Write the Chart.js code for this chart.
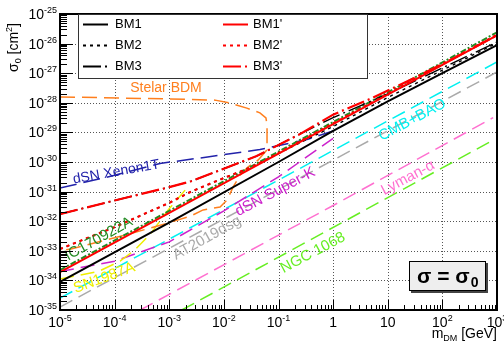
<!DOCTYPE html>
<html>
<head>
<meta charset="utf-8">
<script src="https://cdn.jsdelivr.net/npm/chart.js@4.4.0/dist/chart.umd.min.js"></script>
<style>
  html, body { margin: 0; padding: 0; background: #fff; }
  #wrap { width: 504px; height: 343px; }
</style>
</head>
<body>
<div id="wrap"><canvas id="chart" width="504" height="343"></canvas></div>
<script>
// decades on each axis (log10 values)
const xDecades = [-5, -4, -3, -2, -1, 0, 1, 2, 3];
const yDecades = [-35, -34, -33, -32, -31, -30, -29, -28, -27, -26, -25];
const xTickBase = ['10', '10', '10', '10', '10', '1', '10', '10', '10'];
const xTickExp = ['-5', '-4', '-3', '-2', '-1', '', '', '2', '3'];

// curves as [log10(m_DM / GeV), log10(sigma_0 / cm^2)]
const bm1 = [[-5, -34.05], [-3, -32.05], [-1, -30.0], [0, -28.95], [1, -27.95], [2, -27.0], [3, -26.05]];
const bm2 = [[-5, -32.94], [-4, -32.2], [-3, -31.38], [-2.6, -31.0], [-2, -30.54], [-1.5, -30.18], [-1.1, -29.8], [0, -28.8], [1, -27.82], [2, -26.9], [3, -25.98]];
const bm3 = [[-5, -31.76], [-4, -31.3], [-3, -30.85], [-2.6, -30.65], [-1.4, -29.8], [-0.6, -29.05], [0, -28.5], [1, -27.7], [2, -26.82], [3, -25.95]];
const bm1p = [[-5, -33.72], [-3, -31.72], [-1, -29.72], [0, -28.72], [1, -27.72], [2, -26.72], [3, -25.72]];
const bm2p = [[-5, -32.94], [-4, -32.2], [-3, -31.38], [-2.6, -31.0], [-2, -30.54], [-1.5, -30.18], [-1.1, -29.8], [0, -28.7], [1, -27.7], [2, -26.7], [3, -25.7]];
const bm3p = [[-5, -31.76], [-4, -31.3], [-3, -30.85], [-2.6, -30.65], [-1.4, -29.8], [-0.6, -29.05], [0, -28.4], [0.7, -27.85], [1.5, -27.15], [2.2, -26.5], [3, -25.72]];
const stelarBDM = [[-5, -27.8], [-3, -27.87], [-2.16, -27.91], [-1.89, -28.01], [-1.58, -28.18], [-1.34, -28.34], [-1.23, -28.51],
  [-1.21, -28.75], [-1.21, -29.59], [-1.37, -29.93], [-1.56, -30.17], [-1.7, -30.44], [-1.83, -30.84], [-1.94, -31.28],
  [-2.07, -31.52], [-2.38, -31.62], [-2.6, -31.82], [-3.02, -32.06], [-3.81, -32.47], [-4.8, -32.94], [-5, -33.0]];
const xenon1T = [[-5, -30.88], [-4, -30.45], [-3.17, -30.05], [-2.3, -29.83], [-1.34, -29.58], [-0.48, -29.24], [0, -28.95]];
const cmbBao = [[-5, -34.6], [-0.05, -29.66], [3, -26.62]];
const lymanAlpha = [[-3.53, -35], [-0.05, -31.52], [2.93, -28.5]];
const ngc1068 = [[-2.77, -35], [2.93, -29.26]];
const superK = [[-5, -33.7], [-4, -33.35], [-3, -32.7], [-2, -31.65], [-1, -30.5], [0, -29.2]];
const at2019dsg = [[-5, -34.9], [3, -26.96]];
const ic170922A = [[-5, -33.65], [-3, -31.65], [-1, -29.65], [1, -27.65], [3, -25.62]];
const sn1987A = [[-5, -33.95], [-4.3, -33.7], [-3.9, -33.35], [-3.63, -32.97], [-3.33, -32.4], [-3.02, -31.62], [-2.71, -30.95]];

const FONT = '"Liberation Sans", Arial, Helvetica, sans-serif';

function pts(arr) {
  return arr.map(p => ({ x: Math.pow(10, p[0]), y: Math.pow(10, p[1]) }));
}

function curve(label, arr, color, width, dash) {
  return {
    label: label, data: pts(arr), borderColor: color, backgroundColor: color,
    borderWidth: width, borderDash: dash, showLine: true, pointRadius: 0,
    fill: false, tension: 0
  };
}

// first dataset is drawn on top
const datasets = [
  curve("BM1'", bm1p, '#ff0000', 2, []),
  curve("BM2'", bm2p, '#ff0000', 2.2, [3, 4]),
  curve("BM3'", bm3p, '#ff0000', 2.2, [18, 4, 2, 4]),
  curve('BM1', bm1, '#000000', 2, []),
  curve('BM2', bm2, '#000000', 1.4, [3, 4]),
  curve('BM3', bm3, '#000000', 1.4, [18, 4, 2, 4]),
  curve('IC170922A', ic170922A, '#228b22', 2, [6, 2, 2, 2]),
  curve('Stelar BDM', stelarBDM, '#ff7f1e', 1.5, [15, 7]),
  curve('dSN Xenon1T', xenon1T, '#2222aa', 1.5, [17, 7]),
  curve('SN1987A', sn1987A, '#eeee00', 1.5, [14, 7]),
  curve('dSN Super-K', superK, '#cc22cc', 1.5, [14, 7]),
  curve('CMB+BAO', cmbBao, '#00f0f0', 1.5, [14, 7]),
  curve('AT2019dsg', at2019dsg, '#aaaaaa', 1.5, [14, 7]),
  curve('Lyman-α', lymanAlpha, '#ff70d0', 1.5, [14, 7]),
  curve('NGC 1068', ngc1068, '#66ee22', 1.5, [14, 7])
];

// text placed along the curves: [text, log10 m, log10 sigma, angle deg, color, size]
const curveTexts = [
  ['Stelar BDM', -3.06, -27.5, 0, '#ff7f1e', 14],
  ['dSN Xenon1T', -3.97, -30.34, -10, '#2222aa', 14],
  ['CMB+BAO', 1.45, -28.58, -28, '#00f0f0', 15],
  ['Lyman-α', 1.37, -30.54, -28, '#ff70d0', 15],
  ['NGC 1068', -0.37, -33.07, -28, '#66ee22', 15],
  ['dSN Super-K', -1.06, -31.01, -28, '#cc22cc', 15],
  ['AT2019dsg', -2.31, -32.57, -29, '#aaaaaa', 15],
  ['IC170922A', -4.29, -32.6, -29, '#228b22', 15],
  ['SN1987A', -4.19, -33.92, -20, '#eeee00', 15]
];

function drawScript(ctx, parts, x, y) {
  // parts: [text, size, dy]; draws left to right from x
  let cx = x;
  parts.forEach(p => {
    ctx.font = p[1] + 'px ' + FONT;
    ctx.fillText(p[0], cx, y + p[2]);
    cx += ctx.measureText(p[0]).width;
  });
  return cx;
}
function scriptWidth(ctx, parts) {
  let w = 0;
  parts.forEach(p => { ctx.font = p[1] + 'px ' + FONT; w += ctx.measureText(p[0]).width; });
  return w;
}

const rootStyle = {
  id: 'rootStyle',
  beforeDatasetsDraw(chart) {
    const ctx = chart.ctx, a = chart.chartArea;
    const xs = chart.scales.x, ys = chart.scales.y;
    ctx.save();
    ctx.strokeStyle = '#555';
    ctx.lineWidth = 1;
    ctx.setLineDash([1, 2]);
    xDecades.slice(1, -1).forEach(d => {
      const px = Math.round(xs.getPixelForValue(Math.pow(10, d))) + 0.5;
      ctx.beginPath(); ctx.moveTo(px, a.top); ctx.lineTo(px, a.bottom); ctx.stroke();
    });
    yDecades.slice(1, -1).forEach(d => {
      const py = Math.round(ys.getPixelForValue(Math.pow(10, d))) + 0.5;
      ctx.beginPath(); ctx.moveTo(a.left, py); ctx.lineTo(a.right, py); ctx.stroke();
    });
    ctx.restore();
  },
  afterDatasetsDraw(chart) {
    const ctx = chart.ctx, a = chart.chartArea;
    const xs = chart.scales.x, ys = chart.scales.y;
    ctx.save();
    ctx.fillStyle = '#000';
    ctx.strokeStyle = '#000';

    // curve texts
    curveTexts.forEach(t => {
      const px = xs.getPixelForValue(Math.pow(10, t[1]));
      const py = ys.getPixelForValue(Math.pow(10, t[2]));
      ctx.save();
      ctx.translate(px, py);
      ctx.rotate(t[3] * Math.PI / 180);
      ctx.font = t[5] + 'px ' + FONT;
      ctx.fillStyle = t[4];
      ctx.textAlign = 'center';
      ctx.textBaseline = 'middle';
      ctx.fillText(t[0], 0, 0);
      ctx.restore();
    });

    // frame
    ctx.lineWidth = 2;
    ctx.strokeRect(a.left, a.top, a.right - a.left, a.bottom - a.top);

    // ticks (inside)
    ctx.lineWidth = 1;
    ctx.beginPath();
    for (let i = 0; i < xDecades.length; i++) {
      const d = xDecades[i];
      const px = Math.round(xs.getPixelForValue(Math.pow(10, d))) + 0.5;
      ctx.moveTo(px, a.bottom); ctx.lineTo(px, a.bottom - 10);
      if (i < xDecades.length - 1) {
        for (let k = 2; k <= 9; k++) {
          const mx = Math.round(xs.getPixelForValue(k * Math.pow(10, d))) + 0.5;
          ctx.moveTo(mx, a.bottom); ctx.lineTo(mx, a.bottom - 5);
        }
      }
    }
    for (let i = 0; i < yDecades.length; i++) {
      const d = yDecades[i];
      const py = Math.round(ys.getPixelForValue(Math.pow(10, d))) + 0.5;
      ctx.moveTo(a.left, py); ctx.lineTo(a.left + 13, py);
      if (i < yDecades.length - 1) {
        for (let k = 2; k <= 9; k++) {
          const my = Math.round(ys.getPixelForValue(k * Math.pow(10, d))) + 0.5;
          ctx.moveTo(a.left, my); ctx.lineTo(a.left + 7, my);
        }
      }
    }
    ctx.stroke();

    // tick labels
    ctx.fillStyle = '#000';
    ctx.textAlign = 'left';
    ctx.textBaseline = 'alphabetic';
    xDecades.forEach((d, i) => {
      const px = xs.getPixelForValue(Math.pow(10, d));
      const parts = [[xTickBase[i], 14, 0]];
      if (xTickExp[i]) parts.push([xTickExp[i], 9, -6]);
      const w = scriptWidth(ctx, parts);
      drawScript(ctx, parts, px - w / 2, a.bottom + 17);
    });
    yDecades.forEach(d => {
      const py = ys.getPixelForValue(Math.pow(10, d));
      const parts = [['10', 14, 0], [String(d), 9, -6]];
      const w = scriptWidth(ctx, parts);
      drawScript(ctx, parts, a.left - 3 - w, py + 5);
    });

    // axis titles
    const xt = [['m', 14, 0], ['DM', 9, 3], [' [GeV]', 14, 0]];
    drawScript(ctx, xt, a.right - scriptWidth(ctx, xt), 338);
    ctx.save();
    ctx.translate(18, 72);
    ctx.rotate(-Math.PI / 2);
    drawScript(ctx, [['σ', 14, 0], ['0', 9, 3], [' [cm', 14, 0], ['2', 9, -6], [']', 14, 0]], 0, 0);
    ctx.restore();

    // legend
    ctx.fillStyle = '#fff';
    ctx.fillRect(78, a.top, 289, 64);
    ctx.strokeStyle = '#333';
    ctx.lineWidth = 1;
    ctx.strokeRect(78.5, a.top + 0.5, 289, 64);
    const legendCol = [[83, 115], [223, 253]];
    const legendRowY = [24, 45, 66];
    datasets.slice(0, 6).forEach((ds, i) => {
      const col = i < 3 ? 1 : 0;
      const row = i % 3;
      const y = legendRowY[row] + 0.5;
      ctx.strokeStyle = ds.borderColor;
      ctx.lineWidth = 2;
      ctx.setLineDash(ds.borderDash);
      ctx.beginPath();
      ctx.moveTo(legendCol[col][0], y); ctx.lineTo(legendCol[col][0] + 25, y);
      ctx.stroke();
      ctx.setLineDash([]);
      ctx.fillStyle = '#000';
      ctx.font = '13px ' + FONT;
      ctx.textBaseline = 'middle';
      ctx.fillText(ds.label, legendCol[col][1], y);
    });
    ctx.textBaseline = 'alphabetic';

    // sigma box
    ctx.fillStyle = '#444';
    ctx.fillRect(411, 263, 77, 30);
    ctx.fillStyle = '#eeeeee';
    ctx.fillRect(409, 261, 77, 30);
    ctx.strokeStyle = '#000';
    ctx.lineWidth = 1;
    ctx.strokeRect(409.5, 261.5, 76, 29);
    ctx.fillStyle = '#000';
    ctx.font = 'bold 21px ' + FONT;
    let cx = 417;
    ctx.fillText('σ = σ', cx, 283);
    cx += ctx.measureText('σ = σ').width;
    ctx.font = 'bold 14px ' + FONT;
    ctx.fillText('0', cx + 1, 287);

    ctx.restore();
  }
};

new Chart(document.getElementById('chart').getContext('2d'), {
  type: 'scatter',
  data: { datasets: datasets },
  options: {
    responsive: false,
    animation: false,
    devicePixelRatio: 1,
    layout: { padding: { left: 60, right: 7, top: 14, bottom: 33 } },
    plugins: { legend: { display: false }, tooltip: { enabled: false } },
    scales: {
      x: { type: 'logarithmic', min: 1e-5, max: 1e3, display: false },
      y: { type: 'logarithmic', min: 1e-35, max: 1e-25, display: false }
    }
  },
  plugins: [rootStyle]
});
</script>
</body>
</html>
